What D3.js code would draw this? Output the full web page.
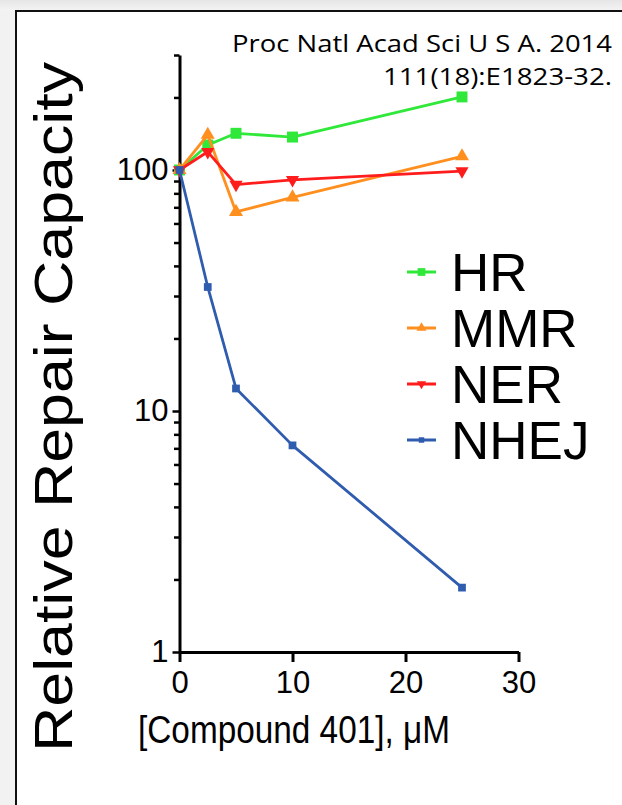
<!DOCTYPE html>
<html>
<head>
<meta charset="utf-8">
<script src="https://cdn.jsdelivr.net/npm/d3@7"></script>
<style>
html,body{margin:0;padding:0;background:#fff;}
svg{display:block;}
</style>
</head>
<body>
<svg id="chart" width="622" height="805"></svg>
<script>
// ---- data ----
const concentrations = [0, 2.5, 5, 10, 25];
const hrValues   = [100, 127, 142, 137, 201];
const mmrValues  = [100, 140, 67, 77, 114];
const nerValues  = [100, 119, 87, 91, 99];
const nhejValues = [100, 32.7, 12.4, 7.2, 1.85];
const seriesNames = ["HR", "MMR", "NER", "NHEJ"];
const xTickValues = [0, 10, 20, 30];
const yMajorTicks = [1, 10, 100];
const yMinorTicks = [2,3,4,5,6,7,8,9,20,30,40,50,60,70,80,90,200,300];
const citationLines = ["Proc Natl Acad Sci U S A. 2014", "111(18):E1823-32."];

const colors = {HR:"#2fe83a", MMR:"#ff8f1f", NER:"#ff1c1c", NHEJ:"#2f5cae"};
const symbols = {HR:d3.symbolSquare, MMR:d3.symbolTriangle, NER:d3.symbolTriangle, NHEJ:d3.symbolSquare};
const symSizes = {HR:120, MMR:85, NER:75, NHEJ:60};
const valuesBy = {HR:hrValues, MMR:mmrValues, NER:nerValues, NHEJ:nhejValues};

const svg = d3.select("#chart");

// background / frame
const grad = svg.append("defs").append("linearGradient").attr("id","bg").attr("x1",0).attr("x2",0).attr("y1",0).attr("y2",1);
grad.append("stop").attr("offset","0").attr("stop-color","#e6e6e6");
grad.append("stop").attr("offset","1").attr("stop-color","#f4f4f4");
svg.append("rect").attr("x",0).attr("y",0).attr("width",622).attr("height",805).attr("fill","#f2f2f2");
svg.append("rect").attr("x",0).attr("y",0).attr("width",622).attr("height",11).attr("fill","url(#bg)");
svg.append("rect").attr("x",16).attr("y",11).attr("width",640).attr("height",820)
  .attr("fill","#fff").attr("stroke","#111").attr("stroke-width",2);

// scales
const x = d3.scaleLinear().domain([0, 30]).range([179.5, 518.5]);
const y = d3.scaleLog().domain([1, 300]).range([652, 652 - Math.log10(300) * 241]);

const font = "'Liberation Sans', Arial, Helvetica, sans-serif";

// y axis
const yAxis = d3.axisLeft(y)
  .tickValues(yMajorTicks.concat(yMinorTicks))
  .tickSize(7).tickSizeOuter(0).tickPadding(4)
  .tickFormat(d => yMajorTicks.includes(d) ? d3.format("d")(d) : "");
const gy = svg.append("g").attr("transform", "translate(" + x(0) + ",0)").call(yAxis);
gy.selectAll("line").attr("stroke","#000").attr("stroke-width",2.5)
  .attr("x2", d => yMajorTicks.includes(d) ? -7 : -5.5);
gy.select(".domain").attr("stroke","#000").attr("stroke-width",3);
gy.selectAll("text").attr("font-family",font).attr("font-size",31).attr("fill","#000");

// x axis
const xAxis = d3.axisBottom(x).tickValues(xTickValues).tickSize(10).tickSizeOuter(0).tickPadding(9);
const gx = svg.append("g").attr("transform", "translate(0," + y(1) + ")").call(xAxis);
gx.selectAll("line").attr("stroke","#000").attr("stroke-width",3);
gx.select(".domain").attr("stroke","#000").attr("stroke-width",3);
gx.selectAll("text").attr("font-family",font).attr("font-size",31).attr("fill","#000");

// axis titles
svg.append("text").attr("x", 294).attr("y", 743).attr("text-anchor","middle")
  .attr("font-family",font).attr("font-size",38).attr("fill","#000")
  .attr("textLength",312).attr("lengthAdjust","spacingAndGlyphs")
  .text("[Compound 401], \u03bcM");
svg.append("text").attr("transform","translate(72,407) rotate(-90)").attr("text-anchor","middle")
  .attr("font-family",font).attr("font-size",54).attr("fill","#000")
  .attr("textLength",690).attr("lengthAdjust","spacingAndGlyphs")
  .text("Relative Repair Capacity");

// series
const line = d3.line().x(d => x(d[0])).y(d => y(d[1]));
seriesNames.forEach(name => {
  const pts = concentrations.map((c, i) => [c, valuesBy[name][i]]);
  svg.append("path").datum(pts).attr("d", line).attr("fill","none")
    .attr("stroke", colors[name]).attr("stroke-width", 2.8).attr("stroke-linejoin","round");
  svg.selectAll(null).data(pts).enter().append("path")
    .attr("d", d3.symbol().type(symbols[name]).size(symSizes[name]))
    .attr("transform", d => "translate(" + x(d[0]) + "," + y(d[1]) + ")" + (name === "NER" ? " rotate(180)" : ""))
    .attr("fill", colors[name]);
});

// legend
const legend = svg.append("g");
seriesNames.forEach((name, i) => {
  const cy = 272 + i * 56;
  legend.append("line").attr("x1",407).attr("x2",436).attr("y1",cy).attr("y2",cy)
    .attr("stroke",colors[name]).attr("stroke-width",3);
  legend.append("path").attr("d", d3.symbol().type(symbols[name]).size(symSizes[name]*0.5))
    .attr("transform","translate(421.5," + cy + ")" + (name === "NER" ? " rotate(180)" : ""))
    .attr("fill",colors[name]);
  legend.append("text").attr("x",451).attr("y",cy + 19)
    .attr("font-family",font).attr("font-size",53).attr("fill","#000").text(name);
});

// citation
svg.append("text").attr("x",612).attr("y",52).attr("text-anchor","end")
  .attr("font-family","'Open Sans', 'Noto Sans', sans-serif").attr("font-size",23).attr("fill","#000")
  .attr("textLength",380).attr("lengthAdjust","spacingAndGlyphs").text(citationLines[0]);
svg.append("text").attr("x",612).attr("y",85).attr("text-anchor","end")
  .attr("font-family","'Open Sans', 'Noto Sans', sans-serif").attr("font-size",23).attr("fill","#000")
  .attr("textLength",229).attr("lengthAdjust","spacingAndGlyphs").text(citationLines[1]);
</script>
</body>
</html>
